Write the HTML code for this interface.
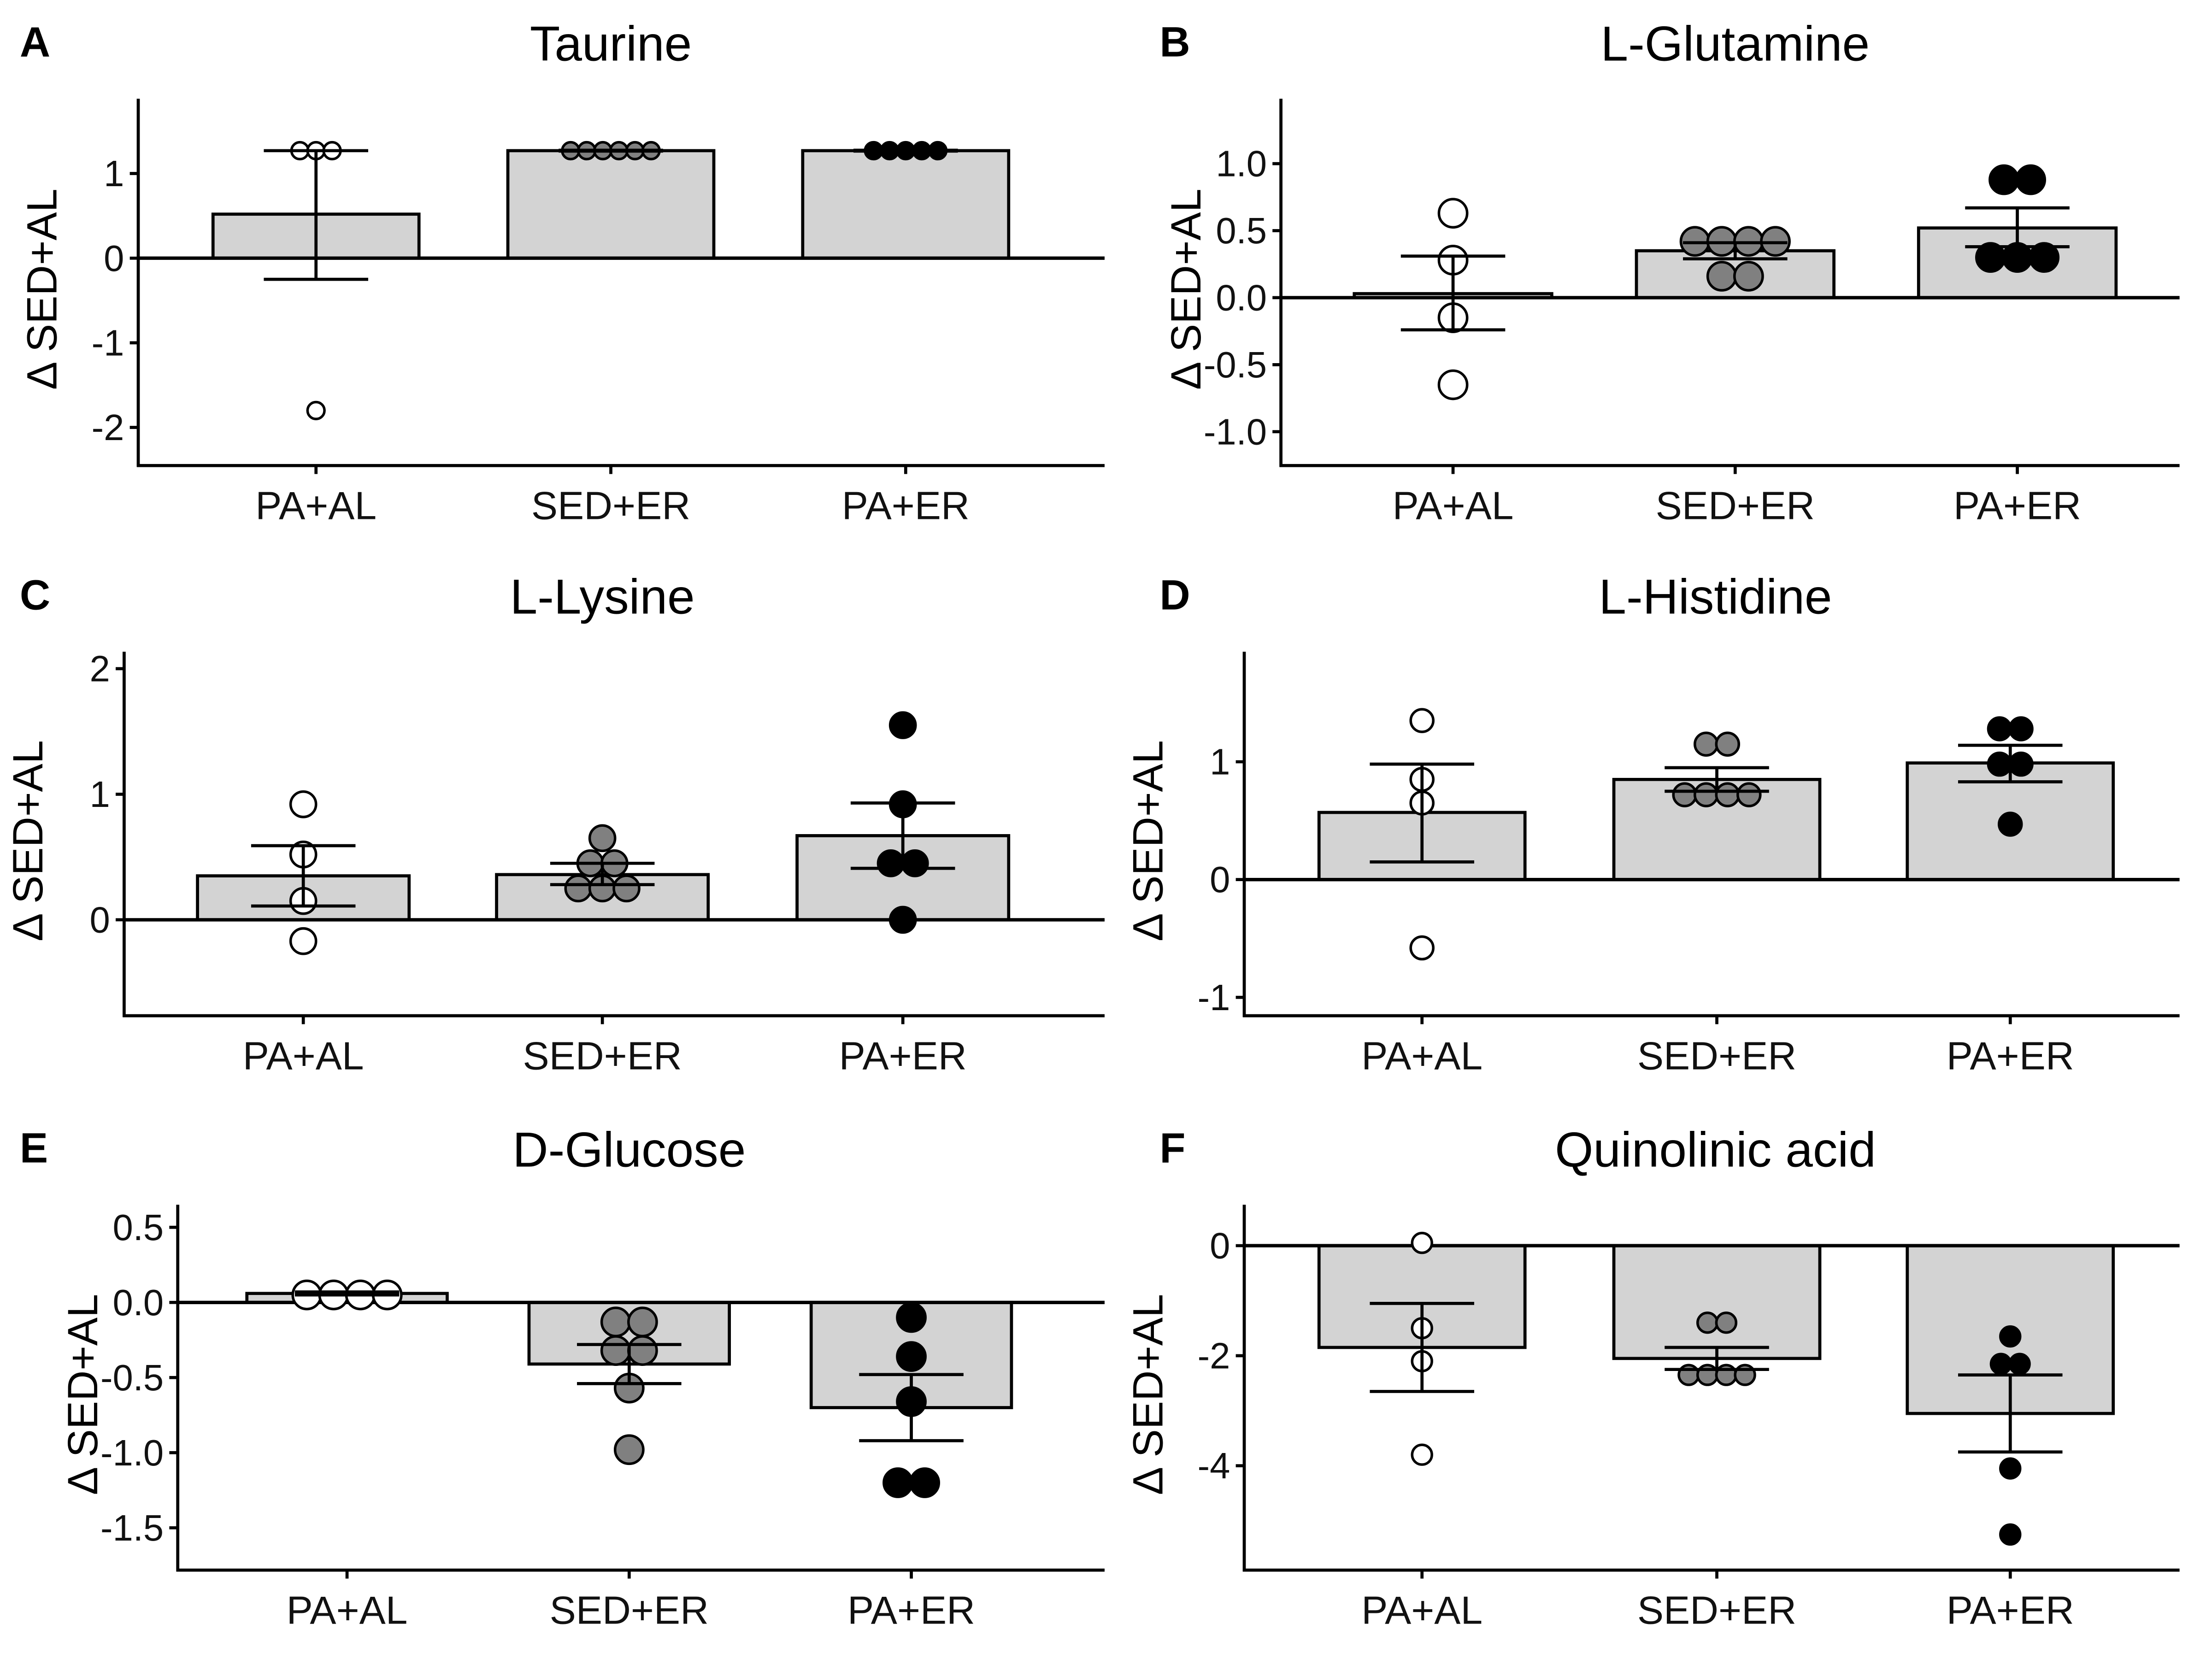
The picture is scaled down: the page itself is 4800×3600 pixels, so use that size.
<!DOCTYPE html>
<html><head><meta charset="utf-8"><style>
html,body{margin:0;padding:0;background:#fff;}
svg{display:block;font-family:"Liberation Sans",Arial,sans-serif;}
</style></head><body>
<svg id="fig" width="4800" height="3600" viewBox="0 0 1568 1176" xmlns="http://www.w3.org/2000/svg"></svg>
<script>
const categories = ["PA+AL","SED+ER","PA+ER"];
const fills = ["#ffffff","#808080","#000000"];
const titles = ["Taurine","L-Glutamine","L-Lysine","L-Histidine","D-Glucose","Quinolinic acid"];
const letters = ["A","B","C","D","E","F"];
const meansA=[0.52,1.27,1.27], errLoA=[-0.25,1.265,1.265], errHiA=[1.27,1.275,1.275];
const ptsA=[[1.27,1.27,1.27,-1.8],[1.27,1.27,1.27,1.27,1.27,1.27],[1.27,1.27,1.27,1.27,1.27]];
const meansB=[0.03,0.35,0.52], errLoB=[-0.24,0.29,0.38], errHiB=[0.31,0.41,0.67];
const ptsB=[[0.63,0.28,-0.15,-0.65],[0.42,0.42,0.42,0.42,0.16,0.16],[0.88,0.88,0.3,0.3,0.3]];
const meansC=[0.35,0.36,0.67], errLoC=[0.11,0.28,0.41], errHiC=[0.59,0.45,0.93];
const ptsC=[[0.92,0.52,0.15,-0.17],[0.65,0.45,0.45,0.25,0.25,0.25],[1.55,0.92,0.45,0.45,0.0]];
const meansD=[0.57,0.85,0.99], errLoD=[0.15,0.75,0.83], errHiD=[0.98,0.95,1.14];
const ptsD=[[1.35,0.85,0.65,-0.58],[1.15,1.15,0.72,0.72,0.72,0.72],[1.28,1.28,0.98,0.98,0.47]];
const meansE=[0.06,-0.41,-0.70], errLoE=[0.05,-0.54,-0.92], errHiE=[0.07,-0.28,-0.48];
const ptsE=[[0.05,0.05,0.05,0.05],[-0.13,-0.13,-0.32,-0.32,-0.57,-0.98],[-0.1,-0.36,-0.66,-1.2,-1.2]];
const meansF=[-1.85,-2.05,-3.05], errLoF=[-2.65,-2.25,-3.75], errHiF=[-1.05,-1.85,-2.35];
const ptsF=[[0.05,-1.5,-2.1,-3.8],[-1.4,-1.4,-2.35,-2.35,-2.35,-2.35],[-1.65,-2.15,-2.15,-4.05,-5.25]];
const ticksA=[1,0,-1,-2], ticksB=[1.0,0.5,0.0,-0.5,-1.0], ticksC=[2,1,0], ticksD=[1,0,-1], ticksE=[0.5,0.0,-0.5,-1.0,-1.5], ticksF=[0,-2,-4];

const NS="http://www.w3.org/2000/svg";
const svg=document.getElementById("fig");
function mk(tag,attrs,parent,txt){const e=document.createElementNS(NS,tag);for(const k in attrs)e.setAttribute(k,attrs[k]);if(txt!==undefined)e.textContent=txt;(parent||svg).appendChild(e);return e;}

const panels=[
 {means:meansA,lo:errLoA,hi:errHiA,pts:ptsA,ticks:ticksA,dec:0,x0:98,x1:783,top:70,bot:330,v0:1,p0:123,v1:-2,p1:303,cx:[224,433,642],bw:146,r:6,lx:14,ly:40,tx:433},
 {means:meansB,lo:errLoB,hi:errHiB,pts:ptsB,ticks:ticksB,dec:1,x0:908,x1:1545,top:70,bot:330,v0:1,p0:116,v1:-1,p1:306,cx:[1030,1230,1430],bw:140,r:10,lx:822,ly:40,tx:1230},
 {means:meansC,lo:errLoC,hi:errHiC,pts:ptsC,ticks:ticksC,dec:0,x0:88,x1:783,top:462,bot:720,v0:2,p0:474,v1:0,p1:652,cx:[215,427,640],bw:150,r:9,lx:14,ly:432,tx:427},
 {means:meansD,lo:errLoD,hi:errHiD,pts:ptsD,ticks:ticksD,dec:0,x0:882,x1:1545,top:462,bot:720,v0:1,p0:540,v1:-1,p1:707,cx:[1008,1217,1425],bw:146,r:8,lx:822,ly:432,tx:1216},
 {means:meansE,lo:errLoE,hi:errHiE,pts:ptsE,ticks:ticksE,dec:1,x0:126,x1:783,top:854,bot:1113,v0:0.5,p0:870,v1:-1.5,p1:1083,cx:[246,446,646],bw:142,r:10,lx:14,ly:824,tx:446},
 {means:meansF,lo:errLoF,hi:errHiF,pts:ptsF,ticks:ticksF,dec:0,x0:882,x1:1545,top:854,bot:1113,v0:0,p0:883,v1:-4,p1:1039,cx:[1008,1217,1425],bw:146,r:7,lx:822,ly:824,tx:1216}
];

panels.forEach((P,i)=>{
  const g=mk("g",{});
  
  
  const y=v=>P.p0+(v-P.v0)*(P.p1-P.p0)/(P.v1-P.v0);
  const lab=mk("text",{x:P.lx,y:P.ly,"font-size":30,"font-weight":"bold"},g,letters[i]);
  
  
  const t=mk("text",{x:P.tx,y:P.ly+3,"font-size":35,"text-anchor":"middle"},g,titles[i]);
  
  
  const yt=mk("text",{x:0,y:0,"font-size":30,"text-anchor":"middle",transform:`translate(${P.x0-(P.dec?57:58)},${(P.top+P.bot)/2+5}) rotate(-90)`},g,"Δ SED+AL");
  
  
  P.means.forEach((m,k)=>{
    const y0=y(0),ym=y(m);
    const b=mk("rect",{x:P.cx[k]-P.bw/2,y:Math.min(y0,ym),width:P.bw,height:Math.max(Math.abs(y0-ym),0.5),fill:"#d3d3d3",stroke:"#000","stroke-width":2.2},g);
    
    
  });
  const zl=mk("line",{x1:P.x0,x2:P.x1,y1:y(0),y2:y(0),stroke:"#000","stroke-width":2.4},g);
  
  
  P.pts.forEach((arr,k)=>{
    const groups=[];
    arr.forEach(v=>{let gg=groups.find(q=>Math.abs(q.v-v)<0.02);if(gg)gg.n++;else groups.push({v:v,n:1});});
    groups.forEach(q=>{
      const sp=P.r*1.9;
      for(let j=0;j<q.n;j++){
        const px=P.cx[k]+(j-(q.n-1)/2)*sp;
        const c=mk("circle",{cx:px,cy:y(q.v),r:P.r,fill:fills[k],stroke:"#000","stroke-width":1.8},g);
        
        
      }
    });
  });
  P.means.forEach((m,k)=>{
    const eg=mk("g",{stroke:"#000","stroke-width":2.2},g);
    
    
    const x=P.cx[k], hw=37;
    mk("line",{x1:x,x2:x,y1:y(P.lo[k]),y2:y(P.hi[k])},eg);
    mk("line",{x1:x-hw,x2:x+hw,y1:y(P.lo[k]),y2:y(P.lo[k])},eg);
    mk("line",{x1:x-hw,x2:x+hw,y1:y(P.hi[k]),y2:y(P.hi[k])},eg);
  });
  const ya=mk("line",{x1:P.x0,x2:P.x0,y1:P.top,y2:P.bot+1,stroke:"#000","stroke-width":2.2},g);
  
  
  const xa=mk("line",{x1:P.x0-1,x2:P.x1,y1:P.bot,y2:P.bot,stroke:"#000","stroke-width":2.2},g);
  
  
  P.ticks.forEach(v=>{
    mk("line",{x1:P.x0-6,x2:P.x0,y1:y(v),y2:y(v),stroke:"#000","stroke-width":2.2},g);
    const tl=mk("text",{x:P.x0-10,y:y(v)+9,"font-size":26,"text-anchor":"end",fill:"#111"},g,v.toFixed(P.dec));
    
    
  });
  categories.forEach((c,k)=>{
    mk("line",{x1:P.cx[k],x2:P.cx[k],y1:P.bot,y2:P.bot+6,stroke:"#000","stroke-width":2.2},g);
    const xl=mk("text",{x:P.cx[k],y:P.bot+38,"font-size":28,"text-anchor":"middle",fill:"#111"},g,c);
    
    
  });
});
</script>
</body></html>
